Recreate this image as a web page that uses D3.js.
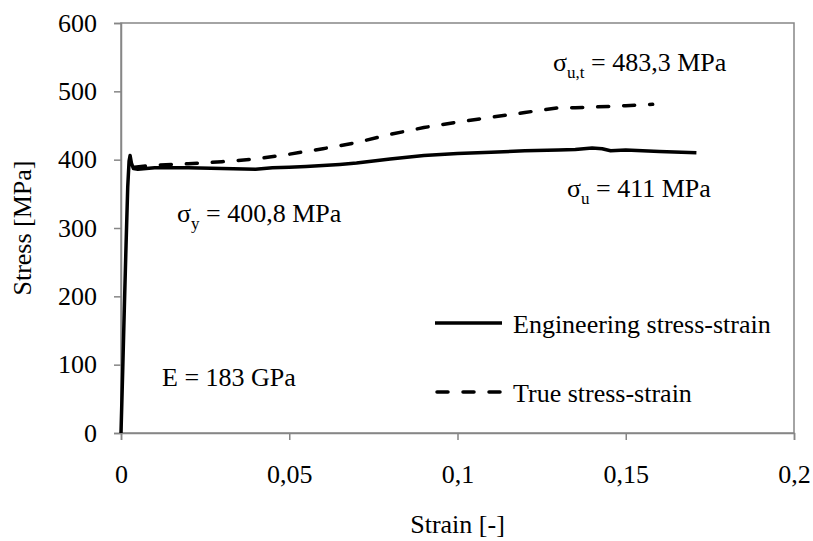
<!DOCTYPE html>
<html>
<head>
<meta charset="utf-8">
<script src="https://cdn.jsdelivr.net/npm/d3@7"></script>
<style>
  html, body { margin: 0; padding: 0; background: #fff; }
  svg text { font-family: "Liberation Serif", "Times New Roman", serif; fill: #000; }
</style>
</head>
<body>
<div id="chart"></div>
<script>
// Engineering stress-strain [strain, MPa]
const engStrain = [0, 0.0005, 0.001, 0.0015, 0.002, 0.0024, 0.0027, 0.0031, 0.0037, 0.005, 0.01, 0.02, 0.03, 0.04, 0.045, 0.05, 0.055, 0.065, 0.07, 0.08, 0.09, 0.1, 0.11, 0.12, 0.13, 0.135, 0.14, 0.143, 0.1455, 0.15, 0.16, 0.171];
const engStress = [0, 90, 185, 275, 360, 398, 406, 395, 387, 386, 388, 388, 387, 386, 388, 389, 390, 393, 395, 401, 406, 409, 411, 413, 414, 415, 417, 416, 413, 414, 412, 410];

// True stress-strain
const trueStrain = [0.004, 0.01, 0.02, 0.03, 0.04, 0.05, 0.06, 0.07, 0.08, 0.09, 0.1, 0.11, 0.12, 0.13, 0.135, 0.14, 0.15, 0.158];
const trueStress = [389, 392, 394, 397, 401, 408, 416, 425, 437, 447, 455, 462, 469, 476, 476, 477, 479, 481];

const xTicks = [0, 0.05, 0.1, 0.15, 0.2];
const yTicks = [0, 100, 200, 300, 400, 500, 600];

const width = 813, height = 541;
const margin = { left: 121, right: 19, top: 23, bottom: 108 };
const axisColor = "#868686";
const fs = "26px";

const svg = d3.select("#chart").append("svg")
  .attr("width", width)
  .attr("height", height);

const x = d3.scaleLinear().domain([0, 0.2]).range([margin.left, width - margin.right]);
const y = d3.scaleLinear().domain([0, 600]).range([height - margin.bottom, margin.top]);

const fmt = d => String(d).replace(".", ",");

// plot border (top & right)
svg.append("rect")
  .attr("x", x(0)).attr("y", y(600))
  .attr("width", x(0.2) - x(0)).attr("height", y(0) - y(600))
  .attr("fill", "none").attr("stroke", axisColor).attr("stroke-width", 1.5);

// x axis
const xAxis = svg.append("g")
  .attr("transform", `translate(0,${y(0)})`)
  .call(d3.axisBottom(x).tickValues(xTicks).tickFormat(fmt).tickSize(7).tickPadding(25));
// y axis
const yAxis = svg.append("g")
  .attr("transform", `translate(${x(0)},0)`)
  .call(d3.axisLeft(y).tickValues(yTicks).tickSize(7).tickPadding(17));

[xAxis, yAxis].forEach(g => {
  g.select(".domain").attr("stroke", axisColor).attr("stroke-width", 1.5);
  g.selectAll(".tick line").attr("stroke", axisColor).attr("stroke-width", 1.5);
  g.selectAll(".tick text")
    .style("font-family", '"Liberation Serif", "Times New Roman", serif')
    .style("font-size", fs).attr("fill", "#000");
});

// axis titles
svg.append("text")
  .attr("x", x(0.1)).attr("y", 533)
  .attr("text-anchor", "middle").style("font-size", fs)
  .text("Strain [-]");
svg.append("text")
  .attr("transform", `translate(31,${y(300)}) rotate(-90)`)
  .attr("text-anchor", "middle").style("font-size", fs)
  .text("Stress [MPa]");

const line = d3.line().x(d => x(d[0])).y(d => y(d[1]));
const engData = engStrain.map((s, i) => [s, engStress[i]]);
const trueData = trueStrain.map((s, i) => [s, trueStress[i]]);

svg.append("path").datum(trueData)
  .attr("d", line).attr("fill", "none")
  .attr("stroke", "#000").attr("stroke-width", 3.5)
  .attr("stroke-linecap", "round")
  .attr("stroke-dasharray", "11,15");

svg.append("path").datum(engData)
  .attr("d", line).attr("fill", "none")
  .attr("stroke", "#000").attr("stroke-width", 3.5)
  .attr("stroke-linejoin", "round");

// legend
const legend = svg.append("g");
legend.append("line").attr("x1", 435).attr("x2", 502).attr("y1", 323).attr("y2", 323)
  .attr("stroke", "#000").attr("stroke-width", 3.5);
legend.append("text").attr("x", 513).attr("y", 333).style("font-size", fs)
  .text("Engineering stress-strain");
legend.append("line").attr("x1", 437).attr("x2", 502).attr("y1", 392).attr("y2", 392)
  .attr("stroke", "#000").attr("stroke-width", 3.5)
  .attr("stroke-linecap", "round").attr("stroke-dasharray", "11,15");
legend.append("text").attr("x", 513).attr("y", 402).style("font-size", fs)
  .text("True stress-strain");

// annotations
function sigma(xp, yp, sub, rest) {
  const t = svg.append("text").attr("x", xp).attr("y", yp).style("font-size", fs);
  t.append("tspan").text("σ");
  t.append("tspan").attr("dy", 7).style("font-size", "17px").text(sub);
  t.append("tspan").attr("dy", -7).text(rest);
}
sigma(553, 71, "u,t", " = 483,3 MPa");
sigma(567, 197, "u", " = 411 MPa");
sigma(177, 222, "y", " = 400,8 MPa");

svg.append("text").attr("x", 162).attr("y", 386).style("font-size", fs)
  .text("E = 183 GPa");
</script>
</body>
</html>
